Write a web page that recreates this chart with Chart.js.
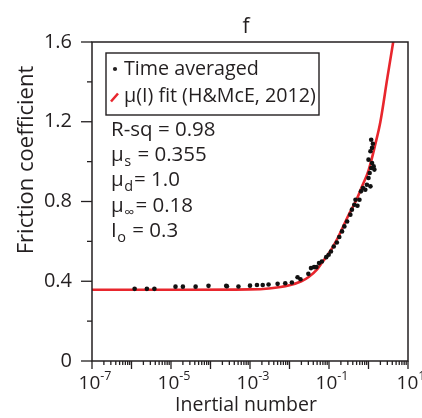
<!DOCTYPE html>
<html>
<head>
<meta charset="utf-8">
<script src="https://cdn.jsdelivr.net/npm/chart.js@4/dist/chart.umd.min.js"></script>
<style>
  html, body { margin: 0; padding: 0; background: #fff; }
  #wrap { width: 422px; height: 418px; }
</style>
</head>
<body>
<div id="wrap"><canvas id="c" width="422" height="418"></canvas></div>
<script>
// time averaged points (inertial number, friction coefficient)
var avgI = [1.2e-6, 2.45e-6, 3.8e-6, 1.3e-5, 2.0e-5, 4.2e-5, 8.9e-5, 2.5e-4, 2.6e-4, 5.1e-4,
    1.0e-3, 1.5e-3, 2.1e-3, 2.95e-3, 5.0e-3, 7.8e-3, 0.0115, 0.016, 0.019, 0.030,
    0.035, 0.042, 0.048, 0.056, 0.066, 0.085, 0.098, 0.112, 0.132, 0.158,
    0.182, 0.214, 0.245, 0.288, 0.347, 0.38, 0.437, 0.468, 0.525, 0.59,
    0.645, 0.724, 0.83, 0.91, 1.0, 1.12, 1.07, 1.17, 1.23, 1.0,
    1.12, 1.23, 1.29, 1.17, 1.35, 1.41];
var avgMu = [0.362, 0.362, 0.362, 0.373, 0.373, 0.373, 0.377, 0.377, 0.375, 0.374,
    0.378, 0.381, 0.381, 0.384, 0.387, 0.39, 0.394, 0.42, 0.41, 0.437,
    0.466, 0.471, 0.471, 0.491, 0.499, 0.521, 0.533, 0.549, 0.574, 0.594,
    0.622, 0.65, 0.675, 0.70, 0.734, 0.759, 0.784, 0.809, 0.779, 0.809,
    0.851, 0.868, 0.859, 0.884, 0.918, 0.876, 0.943, 0.968, 0.993, 1.01,
    1.052, 1.069, 1.09, 1.11, 0.976, 0.96];

// mu(I) fit curve
var fitI = [1e-7, 1e-5, 1e-3, 3e-3, 0.01, 0.02, 0.03, 0.05, 0.07, 0.1,
    0.15, 0.2, 0.3, 0.5, 0.7, 1, 1.5, 2, 3, 4.3];
var fitMu = [0.357, 0.357, 0.359, 0.364, 0.38, 0.40, 0.42, 0.46, 0.50, 0.54,
    0.60, 0.65, 0.725, 0.81, 0.88, 0.955, 1.09, 1.2, 1.42, 1.61];

var yTickVals = [0, 0.4, 0.8, 1.2, 1.6];
var yTickLabels = ['0', '0.4', '0.8', '1.2', '1.6'];
var xLabelExps = [-7, -5, -3, -1, 1];

var legendLabels = ['Time averaged', '\u03bc(I) fit (H&McE, 2012)'];
// fit statistics: [symbol, subscript, rest]
var statLines = [
    ['R-sq', '', ' = 0.98'],
    ['\u03bc', 's', ' = 0.355'],
    ['\u03bc', 'd', '= 1.0'],
    ['\u03bc', '\u221e', '= 0.18'],
    ['I', 'o', ' = 0.3']
];

var FONT = '"Open Sans", sans-serif';
var INK = '#231f20';
var RED = '#e8262d';

var decor = {
    id: 'decor',
    afterDraw: function(chart) {
        var ctx = chart.ctx;
        var a = chart.chartArea;
        var xs = chart.scales.x, ys = chart.scales.y;
        var i, e, d, px, py;

        ctx.save();
        ctx.strokeStyle = INK;
        ctx.lineWidth = 1.5;
        ctx.strokeRect(a.left, a.top, a.right - a.left, a.bottom - a.top);

        // y ticks, majors every 0.4 and minors halfway
        ctx.lineWidth = 1.3;
        for (i = 0; i < yTickVals.length; i++) {
            py = ys.getPixelForValue(yTickVals[i]);
            ctx.beginPath(); ctx.moveTo(a.left - 11, py); ctx.lineTo(a.left, py); ctx.stroke();
            if (i < yTickVals.length - 1) {
                py = ys.getPixelForValue((yTickVals[i] + yTickVals[i + 1]) / 2);
                ctx.beginPath(); ctx.moveTo(a.left - 5, py); ctx.lineTo(a.left, py); ctx.stroke();
            }
        }

        // x ticks on each decade plus 2..9
        for (e = -7; e <= 0; e++) {
            for (d = 1; d <= 9; d++) {
                px = xs.getPixelForValue(d * Math.pow(10, e));
                ctx.beginPath(); ctx.moveTo(px, a.bottom); ctx.lineTo(px, a.bottom + (d === 1 ? 8 : 4)); ctx.stroke();
            }
        }
        px = xs.getPixelForValue(10);
        ctx.beginPath(); ctx.moveTo(px, a.bottom); ctx.lineTo(px, a.bottom + 8); ctx.stroke();

        // x labels as 10 with raised exponent
        ctx.fillStyle = INK;
        ctx.textBaseline = 'alphabetic';
        ctx.textAlign = 'left';
        for (i = 0; i < xLabelExps.length; i++) {
            px = xs.getPixelForValue(Math.pow(10, xLabelExps[i]));
            var sup = (xLabelExps[i] < 0 ? '-' : '') + Math.abs(xLabelExps[i]);
            ctx.font = '19px ' + FONT;
            var w1 = ctx.measureText('10').width;
            ctx.font = '12.5px ' + FONT;
            var w2 = ctx.measureText(sup).width;
            var x0 = px + 3 - (w1 + w2) / 2;
            ctx.font = '19px ' + FONT;
            ctx.fillText('10', x0, 389);
            ctx.font = '12.5px ' + FONT;
            ctx.fillText(sup, x0 + w1, 380);
        }

        // axis titles and panel letter
        ctx.textAlign = 'center';
        ctx.font = '19.5px ' + FONT;
        ctx.fillText('Inertial number', 246, 411);
        ctx.save();
        ctx.translate(33, 160);
        ctx.rotate(-Math.PI / 2);
        ctx.font = '22px ' + FONT;
        ctx.fillText('Friction coefficient', 0, 0);
        ctx.restore();
        ctx.font = '21px ' + FONT;
        ctx.fillText('f', 246, 33);

        // legend box
        ctx.lineWidth = 1.4;
        ctx.strokeRect(106, 53, 213, 62);
        ctx.beginPath();
        ctx.arc(115, 69, 2.1, 0, Math.PI * 2);
        ctx.fill();
        ctx.strokeStyle = RED;
        ctx.lineWidth = 2.5;
        ctx.beginPath(); ctx.moveTo(111, 101.5); ctx.lineTo(118, 93.5); ctx.stroke();
        ctx.textAlign = 'left';
        ctx.font = '19.7px ' + FONT;
        ctx.fillText(legendLabels[0], 124, 75);
        ctx.fillText(legendLabels[1], 124, 102);

        // fit statistics
        for (i = 0; i < statLines.length; i++) {
            var base = 136 + i * 25.2;
            var x = 111;
            ctx.font = '20.5px ' + FONT;
            ctx.fillText(statLines[i][0], x, base);
            x += ctx.measureText(statLines[i][0]).width;
            if (statLines[i][1]) {
                ctx.font = '14.5px ' + FONT;
                ctx.fillText(statLines[i][1], x + 0.5, base + 5);
                x += ctx.measureText(statLines[i][1]).width + 1.5;
                ctx.font = '20.5px ' + FONT;
            }
            ctx.fillText(statLines[i][2], x, base);
        }
        ctx.restore();
    }
};

var ctx = document.getElementById('c').getContext('2d');
var chart = new Chart(ctx, {
    type: 'scatter',
    data: {
        datasets: [{
            label: legendLabels[0],
            data: avgI.map(function(v, k) { return {x: v, y: avgMu[k]}; }),
            backgroundColor: '#111',
            borderWidth: 0,
            pointRadius: 2.3
        }, {
            label: legendLabels[1],
            type: 'line',
            data: fitI.map(function(v, k) { return {x: v, y: fitMu[k]}; }),
            borderColor: RED,
            borderWidth: 2.6,
            pointRadius: 0,
            fill: false,
            cubicInterpolationMode: 'monotone'
        }]
    },
    options: {
        responsive: false,
        animation: false,
        devicePixelRatio: 1,
        layout: { padding: { left: 0, right: 14, top: 42, bottom: 0 } },
        plugins: { legend: { display: false }, tooltip: { enabled: false } },
        scales: {
            x: {
                type: 'logarithmic',
                min: 1e-7,
                max: 10,
                grid: { display: false, drawTicks: false },
                border: { display: false },
                ticks: { display: false },
                afterFit: function(s) { s.height = 57; }
            },
            y: {
                type: 'linear',
                min: 0,
                max: 1.6,
                grid: { display: false, drawTicks: false },
                border: { display: false },
                afterBuildTicks: function(s) {
                    s.ticks = yTickVals.map(function(v) { return {value: v}; });
                },
                ticks: {
                    padding: 20,
                    color: INK,
                    font: { family: FONT, size: 20 },
                    callback: function(v) { return yTickLabels[yTickVals.indexOf(v)]; }
                },
                afterFit: function(s) { s.width = 92; }
            }
        }
    },
    plugins: [decor]
});
</script>
</body>
</html>
